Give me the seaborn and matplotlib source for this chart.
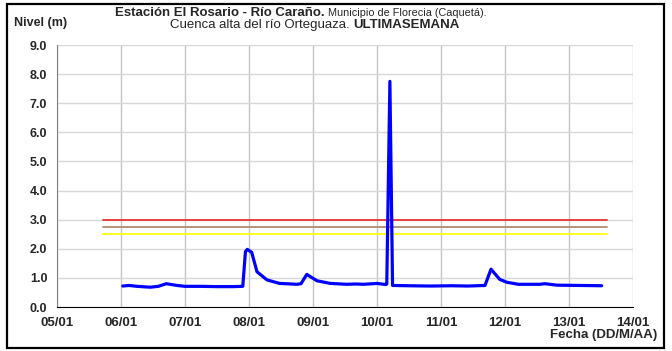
import pandas as pd
import matplotlib
matplotlib.use("Agg")
import matplotlib.pyplot as plt
import matplotlib.dates as mdates
from matplotlib.patches import Rectangle
import seaborn as sns

# Water level readings (date-time, metres)
fechas = [
    "2013-01-06 00:40", "2013-01-06 03:00", "2013-01-06 06:00", "2013-01-06 11:00",
    "2013-01-06 14:00", "2013-01-06 17:00", "2013-01-06 21:00", "2013-01-07 00:00",
    "2013-01-07 06:00", "2013-01-07 12:00", "2013-01-07 18:00", "2013-01-07 21:40",
    "2013-01-07 22:40", "2013-01-07 23:20", "2013-01-08 01:00", "2013-01-08 03:00",
    "2013-01-08 06:45", "2013-01-08 11:30", "2013-01-08 18:00", "2013-01-08 19:30",
    "2013-01-08 21:40", "2013-01-09 01:30", "2013-01-09 06:30", "2013-01-09 12:40",
    "2013-01-09 16:00", "2013-01-09 19:00", "2013-01-10 00:00", "2013-01-10 03:20",
    "2013-01-10 03:40", "2013-01-10 04:50", "2013-01-10 05:50", "2013-01-10 12:00",
    "2013-01-10 20:00", "2013-01-11 04:00", "2013-01-11 10:00", "2013-01-11 16:30",
    "2013-01-11 18:45", "2013-01-11 22:00", "2013-01-12 00:40", "2013-01-12 05:00",
    "2013-01-12 13:00", "2013-01-12 15:00", "2013-01-12 19:30", "2013-01-13 04:00",
    "2013-01-13 12:15",
]
nivel = [
    0.72, 0.74, 0.71, 0.68,
    0.71, 0.80, 0.74, 0.71,
    0.71, 0.70, 0.70, 0.71,
    1.90, 1.98, 1.88, 1.21,
    0.93, 0.81, 0.78, 0.80,
    1.12, 0.90, 0.81, 0.78,
    0.79, 0.78, 0.81, 0.77,
    0.79, 7.75, 0.74, 0.73,
    0.72, 0.73, 0.72, 0.74,
    1.30, 0.95, 0.85, 0.78,
    0.78, 0.80, 0.75, 0.74,
    0.73,
]

# Alert thresholds (horizontal reference lines)
umbral_inicio = "2013-01-05 17:15"
umbral_fin = "2013-01-13 14:10"
umbral_valores = [3.0, 2.75, 2.5]
umbral_colores = ["#E8403A", "#B89478", "#FFFF20"]

ticks_y = [0.0, 1.0, 2.0, 3.0, 4.0, 5.0, 6.0, 7.0, 8.0, 9.0]

df = pd.DataFrame({"fecha": pd.to_datetime(fechas), "nivel": nivel})

sns.set_style("white")
plt.rcParams["font.family"] = ["Liberation Sans", "DejaVu Sans"]

fig = plt.figure(figsize=(6.72, 3.51), dpi=100)
ax = fig.add_axes([57 / 672, 1 - 307 / 351, 576 / 672, 262 / 351])

for val, col in zip(umbral_valores, umbral_colores):
    u = pd.DataFrame({"fecha": pd.to_datetime([umbral_inicio, umbral_fin]), "nivel": [val, val]})
    sns.lineplot(data=u, x="fecha", y="nivel", color=col, lw=1.4, ax=ax)

sns.lineplot(data=df, x="fecha", y="nivel", color="#0000FF", lw=2.3, ax=ax)

ax.set_xlim(pd.Timestamp("2013-01-05"), pd.Timestamp("2013-01-14"))
ax.set_ylim(0, 9)
ax.set_yticks(ticks_y)
ax.set_yticklabels([f"{t:.1f}" for t in ticks_y], fontweight="bold", fontsize=9)
ax.xaxis.set_major_locator(mdates.DayLocator())
ax.xaxis.set_major_formatter(mdates.DateFormatter("%d/%m"))
for lab in ax.get_xticklabels():
    lab.set_fontweight("bold")
    lab.set_fontsize(9.5)
ax.set_xlabel("")
ax.set_ylabel("")

ax.grid(axis="x", color="#C4C4C4", lw=1.0)
ax.grid(axis="y", color="#D8D8D8", lw=1.0)
ax.set_axisbelow(True)
for s in ["top", "right"]:
    ax.spines[s].set_visible(False)
ax.spines["left"].set_color("#808080")
ax.spines["bottom"].set_color("black")
ax.tick_params(axis="y", direction="out", length=4, color="#808080", pad=3)
ax.tick_params(axis="x", direction="out", length=4, color="black", pad=3)

# Title: two lines with mixed bold / normal pieces
fig.canvas.draw()
r = fig.canvas.get_renderer()


def texto_mixto(x, y, partes):
    for txt, peso, size in partes:
        t = fig.text(x / 672, 1 - y / 351, txt, fontsize=size, fontweight=peso, va="center", ha="left")
        x += t.get_window_extent(renderer=r).width


texto_mixto(115, 13, [("Estación El Rosario - Río Caraño.", "bold", 9.5),
                      (" Municipio de Florecia (Caquetá).", "normal", 7.8)])
texto_mixto(170, 25, [("Cuenca alta del río Orteguaza. ", "normal", 9.5),
                      ("ULTIMASEMANA", "bold", 9.5)])

fig.text(14 / 672, 1 - 23 / 351, "Nivel (m)", fontsize=9, fontweight="bold", va="center", ha="left")
fig.text(657 / 672, 1 - 335 / 351, "Fecha (DD/M/AA)", fontsize=9.5, fontweight="bold", va="center", ha="right")

fig.patches.append(Rectangle((7 / 672, 3 / 351), 657 / 672, 344 / 351, transform=fig.transFigure,
                             fill=False, edgecolor="black", lw=1.6))

fig.savefig("out.png", dpi=100)
